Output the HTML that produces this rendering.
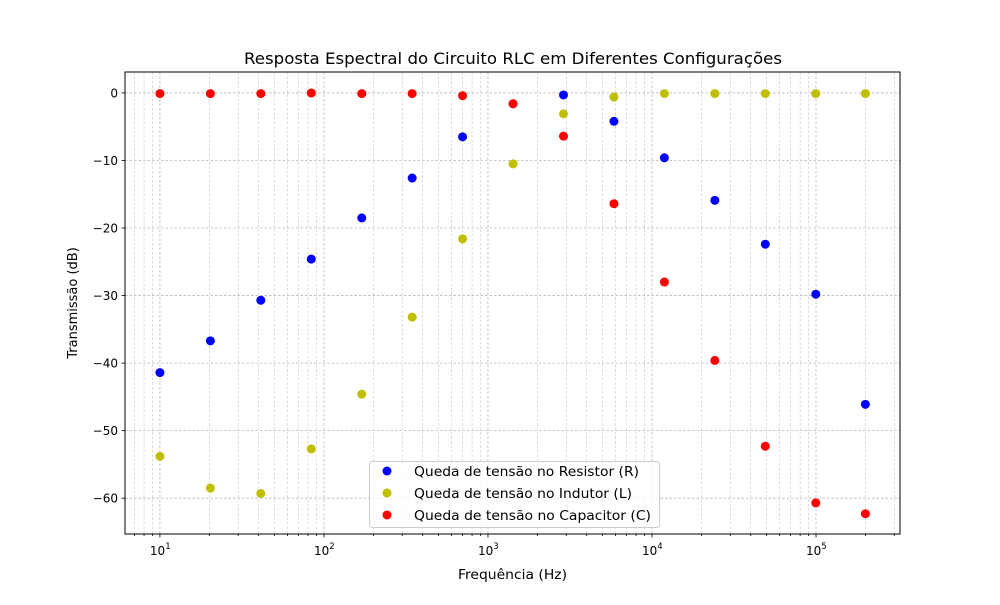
<!DOCTYPE html>
<html><head><meta charset="utf-8"><style>
body{margin:0;background:#fff;font-family:"Liberation Sans","DejaVu Sans",sans-serif;}
svg text{font-family:"DejaVu Sans","Liberation Sans",sans-serif;}
</style></head><body>
<svg id="chart" width="1000" height="600" xmlns="http://www.w3.org/2000/svg">
<rect width="1000" height="600" fill="#fff"/>
<text x="244" y="64" font-size="16" textLength="538" lengthAdjust="spacingAndGlyphs">Resposta Espectral do Circuito RLC em Diferentes Configurações</text>
<text x="458" y="579" font-size="13" textLength="109" lengthAdjust="spacingAndGlyphs">Frequência (Hz)</text>
<text x="0" y="0" font-size="13" text-anchor="middle" transform="translate(77,303) rotate(-90)">Transmissão (dB)</text>
<g id="grid"></g><g id="ticks"></g><g id="marks"></g>
<rect x="125" y="72" width="775" height="462" fill="none" stroke="#000" stroke-width="1"/>
<g id="legend">
<rect x="369.5" y="461.5" width="290" height="66" rx="3" fill="#fff" fill-opacity="0.8" stroke="#ccc"/>
<circle cx="387" cy="471" r="4.5" fill="#0000ff"/>
<text x="414" y="476" font-size="13" textLength="225" lengthAdjust="spacingAndGlyphs">Queda de tensão no Resistor (R)</text>
<circle cx="387" cy="493" r="4.5" fill="#bfbf00"/>
<text x="414" y="498" font-size="13" textLength="218" lengthAdjust="spacingAndGlyphs">Queda de tensão no Indutor (L)</text>
<circle cx="387" cy="515" r="4.5" fill="#ff0000"/>
<text x="414" y="520" font-size="13" textLength="237" lengthAdjust="spacingAndGlyphs">Queda de tensão no Capacitor (C)</text>
</g>
</svg>
<script>
const freqs=[10,20.3,41.2,83.7,170,345,700,1422,2887,5862,11900,24170,49070,99640,200000];
const seriesR=[-41.4,-36.7,-30.7,-24.6,-18.5,-12.6,-6.5,-1.6,-0.3,-4.2,-9.6,-15.9,-22.4,-29.8,-46.1];
const seriesL=[-53.8,-58.5,-59.3,-52.7,-44.6,-33.2,-21.6,-10.5,-3.1,-0.6,-0.1,-0.1,-0.1,-0.1,-0.1];
const seriesC=[-0.1,-0.1,-0.1,0.0,-0.1,-0.1,-0.4,-1.6,-6.4,-16.4,-28.0,-39.6,-52.3,-60.7,-62.3];
const yTicks=[0,-10,-20,-30,-40,-50,-60];
const xDecades=[1,2,3,4,5];
const NS="http://www.w3.org/2000/svg";
const L=125,R=900,T=72,B=534,lx0=0.787,lx1=5.512,y0=3.1,y1=-65.3;
const xs=v=>L+(Math.log10(v)-lx0)/(lx1-lx0)*(R-L);
const ys=v=>T+(y0-v)/(y0-y1)*(B-T);
function mk(tag,attrs,parent){const e=document.createElementNS(NS,tag);for(const k in attrs)e.setAttribute(k,attrs[k]);parent.appendChild(e);return e;}
const grid=document.getElementById('grid'),ticks=document.getElementById('ticks'),marks=document.getElementById('marks');
for(let d=0;d<=5;d++){for(let m=1;m<10;m++){const v=m*Math.pow(10,d);const lv=Math.log10(v);if(lv<lx0||lv>lx1)continue;const x=xs(v);
const g=mk('line',{x1:x,x2:x,y1:T,y2:B,stroke:'#b8b8b8','stroke-width':m===1?0.8:0.5,'stroke-dasharray':'2.5,2'},grid);


mk('line',{x1:x,x2:x,y1:B,y2:B+(m===1?3.5:2),stroke:'#000','stroke-width':0.8},ticks);}}
xDecades.forEach(d=>{const x=xs(Math.pow(10,d));const t=mk('text',{x:x-10,y:555,'font-size':12},ticks);t.textContent='10';
const s=mk('tspan',{dy:-6,'font-size':8.5},t);s.textContent=d;

});
yTicks.forEach(v=>{const y=ys(v);
const g=mk('line',{x1:L,x2:R,y1:y,y2:y,stroke:'#b8b8b8','stroke-width':0.8,'stroke-dasharray':'2.5,2'},grid);


mk('line',{x1:L-3.5,x2:L,y1:y,y2:y,stroke:'#000','stroke-width':0.8},ticks);
const t=mk('text',{x:L-7,y:y+4.5,'font-size':12,'text-anchor':'end'},ticks);t.textContent=(v<0?'\u2212'+(-v):v);

});
[[seriesR,'#0000ff','r'],[seriesL,'#bfbf00','l'],[seriesC,'#ff0000','c']].forEach(([s,c,n])=>{s.forEach((v,i)=>{
const p=mk('circle',{cx:xs(freqs[i]),cy:ys(v),r:4.5,fill:c},marks);

});});
</script>
</body></html>
